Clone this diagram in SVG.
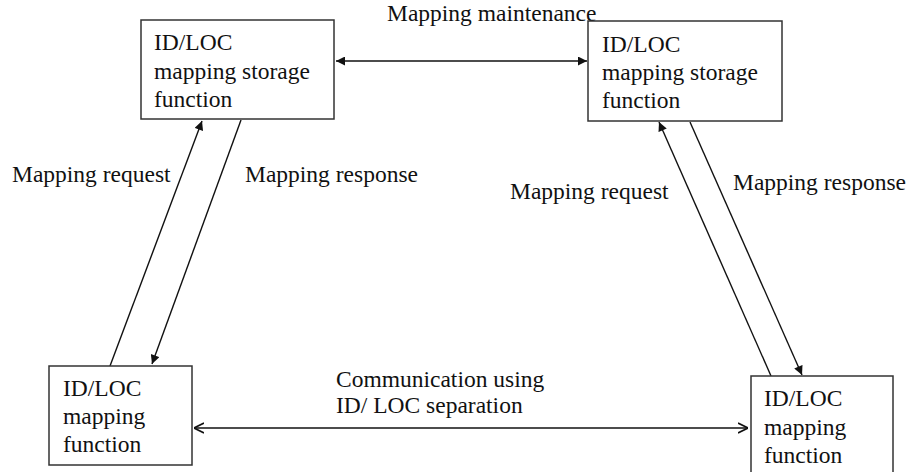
<svg xmlns="http://www.w3.org/2000/svg" width="909" height="472" viewBox="0 0 909 472">
  <style>
    .box { fill: #ffffff; stroke: #333333; stroke-width: 1.5; }
    .lbl { font-family: "Liberation Serif", "Times New Roman", serif; font-size: 23.5px; fill: #111111; }
    .line { stroke: #111111; stroke-width: 1.4; fill: none; }
  </style>
  <defs>
    <marker id="solidHead" viewBox="0 0 10 10" refX="10" refY="5" markerWidth="10" markerHeight="9" markerUnits="userSpaceOnUse" orient="auto-start-reverse">
      <path d="M0,0 L10,5 L0,10 Z" fill="#111111"/>
    </marker>
    <marker id="openHead" viewBox="0 0 10 10" refX="10" refY="5" markerWidth="10" markerHeight="12" markerUnits="userSpaceOnUse" orient="auto-start-reverse">
      <path d="M0,0 L10,5 L0,10" fill="none" stroke="#111111" stroke-width="1.6"/>
    </marker>
  </defs>

  <rect width="909" height="472" fill="#ffffff"/>

  <!-- connectors -->
  <g id="connectors">
    <line class="line" x1="336" y1="61" x2="587" y2="61" marker-start="url(#solidHead)" marker-end="url(#solidHead)"/>
    <line class="line" x1="110" y1="366" x2="202" y2="121" marker-end="url(#solidHead)"/>
    <line class="line" x1="241" y1="120" x2="152" y2="364" marker-end="url(#solidHead)"/>
    <line class="line" x1="771" y1="376" x2="659" y2="122" marker-end="url(#solidHead)"/>
    <line class="line" x1="690" y1="122" x2="802" y2="375" marker-end="url(#solidHead)"/>
    <line class="line" x1="194" y1="428" x2="748" y2="428" marker-start="url(#openHead)" marker-end="url(#openHead)"/>
  </g>

  <!-- connector labels -->
  <g id="labels" class="lbl">
    <text x="387" y="21">Mapping maintenance</text>
    <text x="12" y="182">Mapping request</text>
    <text x="245" y="182">Mapping response</text>
    <text x="510" y="199">Mapping request</text>
    <text x="733" y="190">Mapping response</text>
    <text x="336" y="387">Communication using</text>
    <text x="336" y="413">ID/ LOC separation</text>
  </g>

  <g id="storage-left" class="lbl">
    <rect class="box" x="141" y="20" width="193" height="99"/>
    <text x="154" y="50">ID/LOC</text>
    <text x="154" y="79">mapping storage</text>
    <text x="154" y="107">function</text>
  </g>

  <g id="storage-right" class="lbl">
    <rect class="box" x="588" y="21" width="194" height="100"/>
    <text x="602" y="52">ID/LOC</text>
    <text x="602" y="80">mapping storage</text>
    <text x="602" y="108">function</text>
  </g>

  <g id="mapping-left" class="lbl">
    <rect class="box" x="49" y="366" width="143" height="99"/>
    <text x="63" y="396">ID/LOC</text>
    <text x="63" y="424">mapping</text>
    <text x="63" y="452">function</text>
  </g>

  <g id="mapping-right" class="lbl">
    <rect class="box" x="751" y="376" width="142" height="98"/>
    <text x="764" y="406">ID/LOC</text>
    <text x="764" y="435">mapping</text>
    <text x="764" y="463">function</text>
  </g>
</svg>
